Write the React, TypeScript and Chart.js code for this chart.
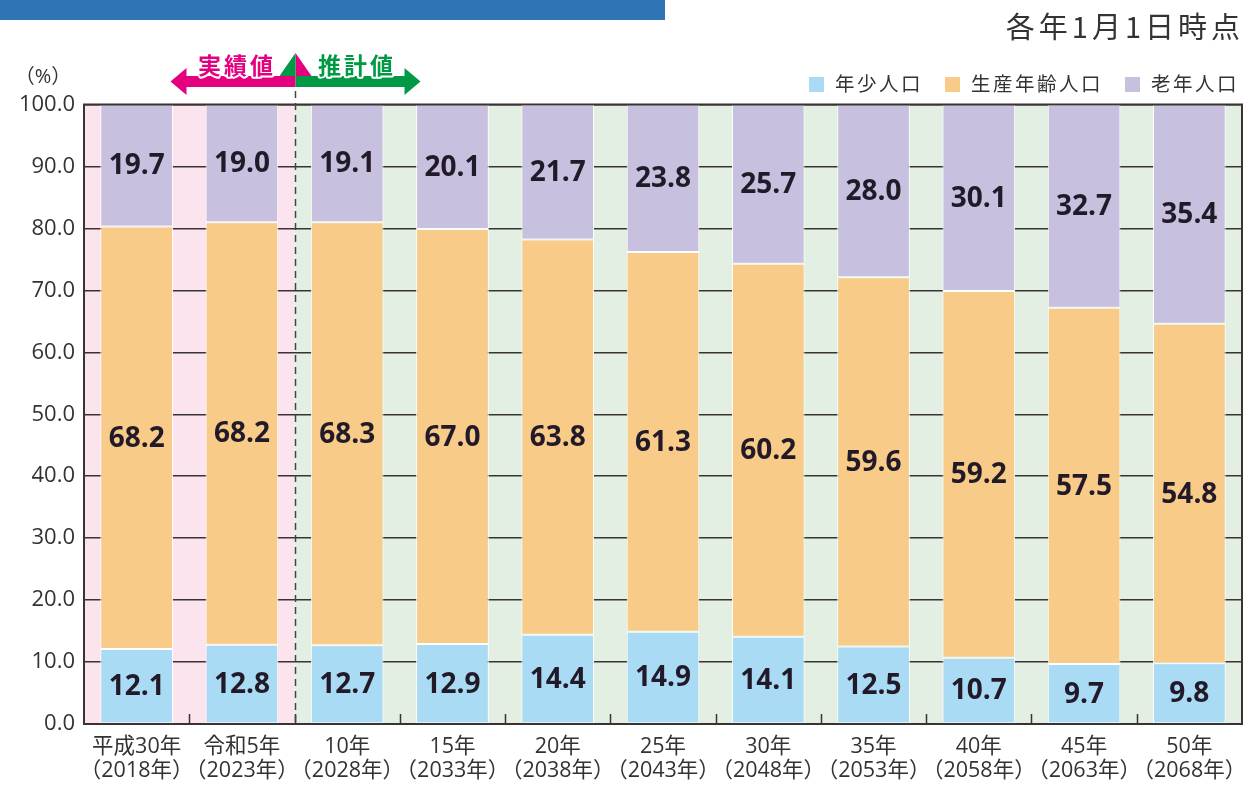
import React, { useEffect, useRef } from 'react';
import { Chart, registerables } from 'chart.js';

Chart.register(...registerables);

// ---- data ----
const categories: string[][] = [
  ['平成30年', '（2018年）'],
  ['令和5年', '（2023年）'],
  ['10年', '（2028年）'],
  ['15年', '（2033年）'],
  ['20年', '（2038年）'],
  ['25年', '（2043年）'],
  ['30年', '（2048年）'],
  ['35年', '（2053年）'],
  ['40年', '（2058年）'],
  ['45年', '（2063年）'],
  ['50年', '（2068年）'],
];
const youth = [12.1, 12.8, 12.7, 12.9, 14.4, 14.9, 14.1, 12.5, 10.7, 9.7, 9.8];
const working = [68.2, 68.2, 68.3, 67.0, 63.8, 61.3, 60.2, 59.6, 59.2, 57.5, 54.8];
const elderly = [19.7, 19.0, 19.1, 20.1, 21.7, 23.8, 25.7, 28.0, 30.1, 32.7, 35.4];
const seriesNames = ['年少人口', '生産年齢人口', '老年人口'];
const actualCount = 2; // categories that are 実績値
const actualLabel = '実績値';
const projectedLabel = '推計値';
const unitLabel = '（%）';
const noteLabel = '各年1月1日時点';

// ---- styles ----
const COLORS = ['#AADBF4', '#F8CB88', '#C8C0DF'];
const PINK_BG = '#FBE4EE';
const GREEN_BG = '#E2EFE2';
const AXIS = '#3a3333';
const TEXT = '#333333';
const PINK = '#E4007F';
const GREEN = '#009944';
const SANS = '"Open Sans", "Noto Sans CJK JP", sans-serif';
const CJK = '"Noto Sans CJK JP", sans-serif';

const decorPlugin = {
  id: 'decor',
  beforeDraw(chart: any) {
    const { ctx, chartArea: a, scales } = chart;
    const x = scales.x;
    ctx.save();
    ctx.fillStyle = '#ffffff';
    ctx.fillRect(0, 0, chart.width, chart.height);
    const div = x.getPixelForValue(actualCount - 0.5);
    ctx.fillStyle = PINK_BG;
    ctx.fillRect(a.left, a.top, div - a.left, a.bottom - a.top);
    ctx.fillStyle = GREEN_BG;
    ctx.fillRect(div, a.top, a.right - div, a.bottom - a.top);
    ctx.restore();
  },
  afterDatasetsDraw(chart: any) {
    const { ctx, chartArea: a, scales } = chart;
    const x = scales.x;
    ctx.save();

    // value labels
    ctx.font = `bold 28px ${SANS}`;
    ctx.fillStyle = '#221a28';
    ctx.textAlign = 'center';
    ctx.textBaseline = 'middle';
    chart.data.datasets.forEach((ds: any, di: number) => {
      const meta = chart.getDatasetMeta(di);
      meta.data.forEach((el: any, i: number) => {
        const v = ds.data[i];
        const cy = (el.y + el.base) / 2;
        ctx.fillText(v.toFixed(1), el.x, cy + 1);
      });
    });

    // frame
    ctx.strokeStyle = AXIS;
    ctx.lineWidth = 2;
    ctx.strokeRect(a.left, a.top, a.right - a.left, a.bottom - a.top);

    // inward category boundary ticks
    ctx.lineWidth = 1.5;
    for (let i = 1; i < categories.length; i++) {
      const px = Math.round(x.getPixelForValue(i - 0.5)) + 0.5;
      ctx.beginPath();
      ctx.moveTo(px, a.bottom - 10);
      ctx.lineTo(px, a.bottom);
      ctx.stroke();
    }

    // dashed divider
    const div = Math.round(x.getPixelForValue(actualCount - 0.5)) + 0.5;
    ctx.setLineDash([7, 5]);
    ctx.strokeStyle = '#444';
    ctx.lineWidth = 1.5;
    ctx.beginPath();
    ctx.moveTo(div, 91);
    ctx.lineTo(div, a.bottom);
    ctx.stroke();
    ctx.setLineDash([]);

    // arrows
    const drawArrow = (dir: number, color: string, label: string) => {
      const tip = div + dir * 125;
      const headBack = div + dir * 109;
      ctx.fillStyle = color;
      ctx.beginPath();
      ctx.moveTo(div, 53);
      ctx.lineTo(div - dir * 16, 76);
      ctx.lineTo(headBack, 76);
      ctx.lineTo(headBack, 68);
      ctx.lineTo(tip, 81.5);
      ctx.lineTo(headBack, 95);
      ctx.lineTo(headBack, 87);
      ctx.lineTo(div, 87);
      ctx.closePath();
      ctx.fill();
      ctx.font = `bold 23px ${CJK}`;
      (ctx as any).letterSpacing = '3px';
      ctx.textAlign = 'center';
      ctx.textBaseline = 'middle';
      const tx = div + dir * 60 + 1.5;
      ctx.lineWidth = 4;
      ctx.strokeStyle = '#ffffff';
      ctx.lineJoin = 'round';
      ctx.strokeText(label, tx, 65);
      ctx.fillStyle = color;
      ctx.fillText(label, tx, 65);
      (ctx as any).letterSpacing = '0px';
    };
    drawArrow(-1, PINK, actualLabel);
    drawArrow(1, GREEN, projectedLabel);

    // legend
    ctx.font = `19.5px ${CJK}`;
    (ctx as any).letterSpacing = '2.5px';
    ctx.textAlign = 'left';
    ctx.textBaseline = 'middle';
    let lx = 809;
    const ly = 84;
    seriesNames.forEach((name, i) => {
      ctx.fillStyle = COLORS[i];
      ctx.fillRect(lx, ly - 7, 15, 15);
      ctx.fillStyle = TEXT;
      ctx.fillText(name, lx + 26, ly);
      lx += 26 + ctx.measureText(name).width + 22;
    });

    // note
    ctx.font = `29px ${CJK}`;
    (ctx as any).letterSpacing = '4px';
    ctx.textAlign = 'right';
    ctx.fillStyle = TEXT;
    ctx.fillText(noteLabel, 1244, 27);
    (ctx as any).letterSpacing = '0px';

    // unit
    ctx.font = `20px ${SANS}`;
    ctx.textAlign = 'center';
    ctx.fillText(unitLabel, 43, 77);

    // header band
    ctx.fillStyle = '#2F75B5';
    ctx.fillRect(0, 0, 665, 20);

    ctx.restore();
  },
};

export default function App() {
  const ref = useRef<HTMLCanvasElement>(null);
  useEffect(() => {
    if (!ref.current) return;
    const chart = new Chart(ref.current, {
      type: 'bar',
      data: {
        labels: categories,
        datasets: [
          { label: seriesNames[0], data: youth, backgroundColor: COLORS[0] },
          { label: seriesNames[1], data: working, backgroundColor: COLORS[1] },
          { label: seriesNames[2], data: elderly, backgroundColor: COLORS[2] },
        ].map((d) => ({
          ...d,
          borderColor: '#ffffff',
          borderWidth: 1,
          borderSkipped: false,
          barPercentage: 0.69,
          categoryPercentage: 1,
        })),
      },
      options: {
        animation: false,
        responsive: false,
        devicePixelRatio: 1,
        layout: { padding: { left: 0, right: 13, top: 104.5, bottom: 0 } },
        plugins: { legend: { display: false }, tooltip: { enabled: false } },
        scales: {
          x: {
            stacked: true,
            grid: { display: false },
            border: { display: false },
            ticks: {
              autoSkip: false,
              maxRotation: 0,
              padding: 3,
              color: TEXT,
              font: { family: SANS, size: 21.5, lineHeight: 1.1 },
            },
            afterFit: (s: any) => {
              s.height = 67;
            },
          },
          y: {
            stacked: true,
            min: 0,
            max: 100,
            grid: { color: AXIS, lineWidth: 1.5, drawTicks: false },
            border: { display: false },
            ticks: {
              stepSize: 10,
              padding: 9,
              color: TEXT,
              font: { family: SANS, size: 22 },
              callback: (v: any) => Number(v).toFixed(1),
            },
            afterFit: (s: any) => {
              s.width = 84;
            },
          },
        },
      },
      plugins: [decorPlugin],
    } as any);
    return () => chart.destroy();
  }, []);
  return (
    <div style={{ position: 'fixed', left: 0, top: 0, width: 1255, height: 791, background: '#fff' }}>
      <canvas ref={ref} width={1255} height={791} style={{ display: 'block' }} />
    </div>
  );
}
